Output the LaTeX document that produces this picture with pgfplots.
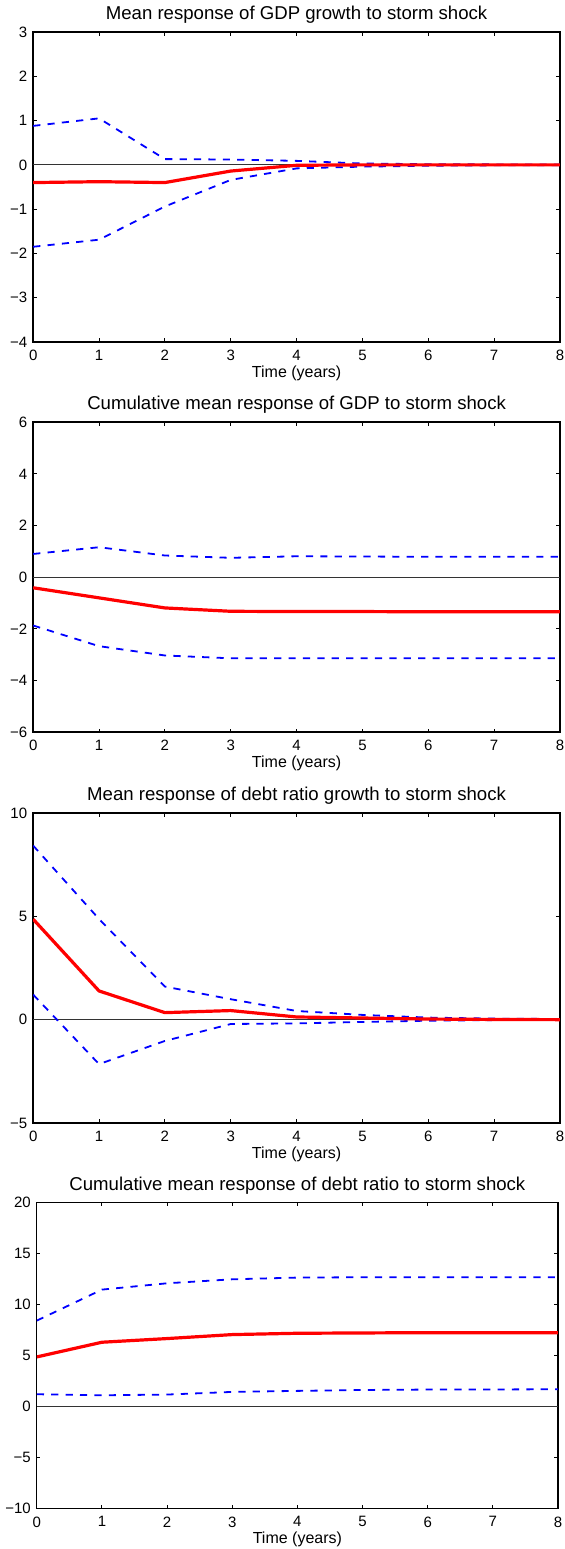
\documentclass[border=0pt]{standalone}
\usepackage{fontspec}
\setmainfont{Liberation Sans}
\usepackage{pgfplots}
\pgfplotsset{compat=1.18}
\newcommand{\m}{−}
\pgfplotsset{
 irf/.style={
  scale only axis, width=264pt, height=155pt,
  xmin=0, xmax=8, xtick={0,1,...,8},
  tick align=inside,
  xtick pos=both, ytick pos=both,
  ticklabel style={font=\fontsize{7.5}{9}\selectfont},
  /pgf/number format/assume math mode=true,
  major tick length=1.8pt,
  axis line style={line width=0.7pt},
  every tick/.style={black, line width=0.5pt},
  xlabel={Time (years)},
  xlabel style={font=\fontsize{8}{9}\selectfont, yshift=4.5pt},
  xticklabel style={yshift=-0.5pt},
  yticklabel style={xshift=0.5pt},
  title style={font=\fontsize{9.3}{11}\selectfont, yshift=-5.2pt},
 },
 mean/.style={red, line width=1.6pt},
 band/.style={blue, line width=0.9pt, dash pattern=on 3.6pt off 3.6pt},
 zero/.style={black!80, line width=0.45pt},
}
\begin{document}
\begin{tikzpicture}
\useasboundingbox (0,0) rectangle (282.5pt,774.5pt);
% Panel 1
\begin{axis}[irf, at={(16.6pt,603.5pt)}, anchor=south west, width=263.4pt,
  title={Mean response of GDP growth to storm shock},
  ymin=-4, ymax=3, ytick={-4,-3,-2,-1,0,1,2,3},
  yticklabels={\m4,\m3,\m2,\m1,0,1,2,3}]
\addplot[zero] coordinates {(0,0) (8,0)};
\addplot[band] coordinates {(0,0.88) (1,1.05) (2,0.13) (3,0.12) (4,0.09) (5,0.03) (6,0.015) (7,0.01) (8,0.01)};
\addplot[band] coordinates {(0,-1.85) (1,-1.69) (2,-0.94) (3,-0.34) (4,-0.08) (5,-0.04) (6,-0.02) (7,-0.01) (8,-0.01)};
\addplot[mean] coordinates {(0,-0.40) (1,-0.38) (2,-0.40) (3,-0.14) (4,-0.01) (5,0.0) (6,0.0) (7,0.0) (8,0.0)};
\end{axis}
% Panel 2
\begin{axis}[irf, at={(16.6pt,408.4pt)}, anchor=south west, width=263.4pt,
  title={Cumulative mean response of GDP to storm shock},
  ymin=-6, ymax=6, ytick={-6,-4,-2,0,2,4,6},
  yticklabels={\m6,\m4,\m2,0,2,4,6}]
\addplot[zero] coordinates {(0,0) (8,0)};
\addplot[band] coordinates {(0,0.90) (1,1.16) (2,0.84) (3,0.75) (4,0.81) (5,0.80) (6,0.79) (7,0.79) (8,0.79)};
\addplot[band] coordinates {(0,-1.87) (1,-2.67) (2,-3.03) (3,-3.14) (4,-3.14) (5,-3.14) (6,-3.14) (7,-3.14) (8,-3.14)};
\addplot[mean] coordinates {(0,-0.41) (1,-0.80) (2,-1.19) (3,-1.32) (4,-1.33) (5,-1.33) (6,-1.34) (7,-1.34) (8,-1.34)};
\end{axis}
% Panel 3
\begin{axis}[irf, at={(16.6pt,213pt)}, anchor=south west, width=263.4pt,
  title={Mean response of debt ratio growth to storm shock},
  ymin=-5, ymax=10, ytick={-5,0,5,10},
  yticklabels={\m5,0,5,10}]
\addplot[zero] coordinates {(0,0) (8,0)};
\addplot[band] coordinates {(0,8.42) (1,4.87) (2,1.60) (3,0.99) (4,0.42) (5,0.23) (6,0.10) (7,0.05) (8,0.03)};
\addplot[band] coordinates {(0,1.21) (1,-2.15) (2,-1.03) (3,-0.21) (4,-0.18) (5,-0.11) (6,-0.05) (7,-0.02) (8,-0.01)};
\addplot[mean] coordinates {(0,4.86) (1,1.39) (2,0.34) (3,0.44) (4,0.13) (5,0.08) (6,0.03) (7,0.01) (8,0.0)};
\end{axis}
% Panel 4
\begin{axis}[irf, at={(18.4pt,20.2pt)}, anchor=south west, width=260.6pt, height=153pt,
  title={Cumulative mean response of debt ratio to storm shock},
  ymin=-10, ymax=20, ytick={-10,-5,0,5,10,15,20},
  yticklabels={\m10,\m5,0,5,10,15,20}]
\addplot[zero] coordinates {(0,0) (8,0)};
\addplot[band] coordinates {(0,8.43) (1,11.47) (2,12.09) (3,12.48) (4,12.65) (5,12.68) (6,12.68) (7,12.68) (8,12.68)};
\addplot[band] coordinates {(0,1.21) (1,1.11) (2,1.18) (3,1.44) (4,1.54) (5,1.63) (6,1.67) (7,1.68) (8,1.70)};
\addplot[mean] coordinates {(0,4.87) (1,6.31) (2,6.67) (3,7.06) (4,7.19) (5,7.22) (6,7.25) (7,7.25) (8,7.25)};
\end{axis}
\end{tikzpicture}
\end{document}
